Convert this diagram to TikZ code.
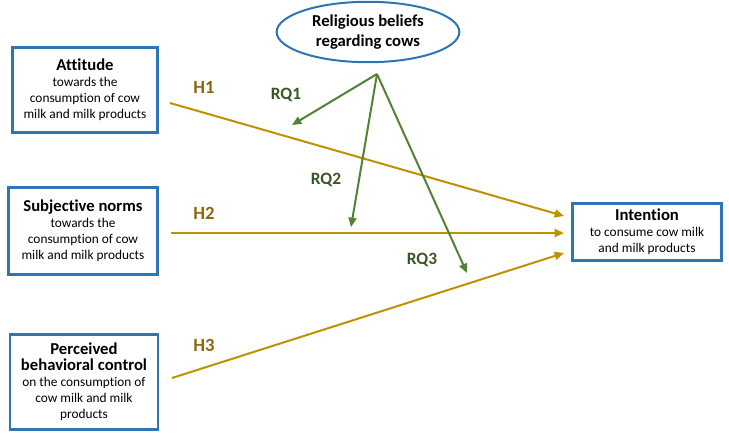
\documentclass[tikz,border=0pt]{standalone}
\usepackage{fontspec}
\setmainfont{Carlito}[Ligatures=NoCommon]
\usepackage{xcolor}
\definecolor{bblue}{RGB}{46,117,182}
\definecolor{hgold}{RGB}{191,144,0}
\definecolor{hlab}{RGB}{140,104,10}
\definecolor{rgreen}{RGB}{84,130,53}
\definecolor{rlab}{RGB}{56,87,35}
\usetikzlibrary{arrows.meta,shapes,positioning,calc}
\newcommand{\btitle}[1]{{\fontsize{12.5}{14.5}\selectfont\bfseries #1}}

\begin{document}
\begin{tikzpicture}[
  x=0.75pt,y=-0.75pt,
  cbox/.style={rectangle,draw=bblue,line width=1.9pt,fill=white,align=center,inner sep=2pt,font=\fontsize{10}{12}\selectfont},
  ebox/.style={ellipse,draw=bblue,line width=1.5pt,fill=white,align=center,minimum width=137pt,minimum height=45pt,font=\fontsize{12.5}{14.5}\selectfont\bfseries},
  harrow/.style={-{Triangle[length=7pt,width=6pt]},line width=1.5pt,hgold},
  rarrow/.style={-{Triangle[length=7pt,width=6pt]},line width=1.5pt,rgreen},
  hlabel/.style={font=\fontsize{14}{16}\selectfont\bfseries,text=hlab},
  rlabel/.style={font=\fontsize{13}{15}\selectfont\bfseries,text=rlab}
]
  \useasboundingbox (0,0) rectangle (729,440);

  % Predictors
  \node[cbox,minimum width=109pt,minimum height=64pt] (att) at (85,90)
    {\btitle{Attitude}\\towards the\\consumption of cow\\milk and milk products};
  \node[cbox,minimum width=112pt,minimum height=65pt] (sn) at (83,231)
    {\btitle{Subjective norms}\\towards the\\consumption of cow\\milk and milk products};
  \node[cbox,minimum width=111pt,minimum height=71pt] (pbc) at (84,382)
    {\btitle{Perceived}\\\btitle{behavioral control}\\on the consumption of\\cow milk and milk\\products};

  % Outcome
  \node[cbox,minimum width=112pt,minimum height=43pt] (int) at (647,232)
    {\btitle{Intention}\\to consume cow milk\\and milk products};

  % Moderator
  \node[ebox] (rel) at (368,32) {Religious beliefs\\regarding cows};

  % End points
  \coordinate (h1s) at (170,103);
  \coordinate (h1e) at (564,216);
  \coordinate (h2s) at (171,233);
  \coordinate (h2e) at (564,233);
  \coordinate (h3s) at (172,378);
  \coordinate (h3e) at (564,253);
  \coordinate (apex) at (377,74);
  \coordinate (rq1e) at (292,125);
  \coordinate (rq2e) at (351,227);
  \coordinate (rq3e) at (467,273);

  % Hypotheses
  \draw[harrow] (h1s) -- (h1e);
  \draw[harrow] (h2s) -- (h2e);
  \draw[harrow] (h3s) -- (h3e);
  \node[hlabel] (lh1) at (204,87) {H1};
  \node[hlabel] (lh2) at (204,213) {H2};
  \node[hlabel] (lh3) at (204,345) {H3};

  % Research questions
  \draw[rarrow] (apex) -- (rq1e);
  \draw[rarrow] (apex) -- (rq2e);
  \draw[rarrow] (apex) -- (rq3e);
  \node[rlabel] (lrq1) at (286,95) {RQ1};
  \node[rlabel] (lrq2) at (326,180) {RQ2};
  \node[rlabel] (lrq3) at (422,260) {RQ3};
\end{tikzpicture}
\end{document}
